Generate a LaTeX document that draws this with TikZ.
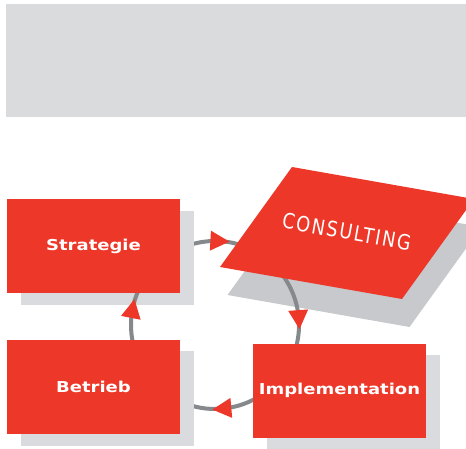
\documentclass[tikz,border=0pt]{standalone}
\usepackage{fontspec}
\usetikzlibrary{calc}
\newfontfamily\boxfont{DejaVu Sans}[FakeStretch=1.2]
\newfontfamily\consfont{DejaVu Sans}[FakeStretch=0.85, LetterSpace=8]
\definecolor{myred}{RGB}{237,56,41}
\definecolor{boxgray}{RGB}{217,219,222}
\definecolor{paragray}{RGB}{199,201,204}
\definecolor{bannergray}{RGB}{218,219,221}
\definecolor{linegray}{RGB}{134,137,140}
\pgfdeclarelayer{bg}
\pgfdeclarelayer{shad}
\pgfdeclarelayer{arcs}
\pgfsetlayers{bg,shad,arcs,main}
\begin{document}
\begin{tikzpicture}[x=1pt,y=1pt,
  box/.style={fill=myred, text=white, minimum width=173pt, minimum height=94pt,
    inner sep=0pt, font=\boxfont\bfseries\fontsize{15}{18}\selectfont},
  loopline/.style={draw=linegray, line width=4pt},
  tri/.pic={\fill[myred] (10,0) -- (-9,10) -- (-9,-10) -- cycle;}]
\useasboundingbox (0,0) rectangle (466,448);
% banner
\begin{pgfonlayer}{bg}
  \fill[bannergray] (6,331) rectangle (466,444);
\end{pgfonlayer}
% boxes
\node[box] (strategie) at (93.5,202) {Strategie};
\node[box] (betrieb) at (93.5,61.5) {Betrieb};
\node[box] (impl) at (339.5,57.5) {Implementation};
% parallelogram corners
\coordinate (pA) at (292,281);
\coordinate (pB) at (474,249);
\coordinate (pC) at (402,149);
\coordinate (pD) at (220,181);
\coordinate (c) at (215,123);
% shadows
\begin{pgfonlayer}{shad}
  \foreach \n in {strategie,betrieb,impl}
    \fill[boxgray] ([shift={(14pt,-12pt)}]\n.south west) rectangle ([shift={(14pt,-12pt)}]\n.north east);
  \fill[paragray] ([shift={(7.5pt,-28pt)}]pA) -- ([shift={(7.5pt,-28pt)}]pB)
    -- ([shift={(7.5pt,-28pt)}]pC) -- ([shift={(7.5pt,-28pt)}]pD) -- cycle;
\end{pgfonlayer}
% loop arcs
\begin{pgfonlayer}{bg}
  \draw[loopline] (c) ++(150:84pt) arc[start angle=150, end angle=60, radius=84pt];
  \draw[loopline] (c) ++(-40:84pt) arc[start angle=-40, end angle=-150, radius=84pt];
\end{pgfonlayer}
\begin{pgfonlayer}{arcs}
  \draw[loopline] (c) ++(50:84pt) arc[start angle=50, end angle=-20, radius=84pt];
  \draw[loopline] (c) ++(-160:84pt) arc[start angle=-160, end angle=-215, radius=84pt];
\end{pgfonlayer}
% consulting plate
\fill[myred] (pA) -- (pB) -- (pC) -- (pD) -- cycle;
\node[rotate=-10, text=white, inner sep=0pt,
  font=\consfont\fontsize{21}{24}\selectfont] (consulting) at (346.7,216.3) {CONSULTING};
% arrowheads
\pic[rotate=-3] at ($(c)+(87:84pt)$) {tri};
\pic[rotate=-86] at ($(c)+(4:84pt)$) {tri};
\pic[rotate=-175] at ($(c)+(-85:84pt)$) {tri};
\pic[rotate=79] at ($(c)+(169:84pt)$) {tri};
\end{tikzpicture}
\end{document}
